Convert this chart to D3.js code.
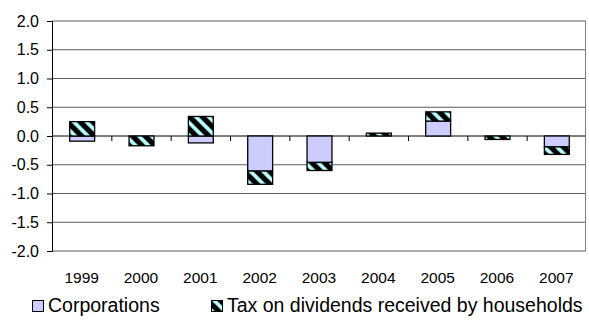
<!DOCTYPE html>
<html><head><meta charset="utf-8">
<script src="https://cdn.jsdelivr.net/npm/d3@7"></script>
<style>html,body{margin:0;padding:0;background:#fff}svg{display:block}text{font-family:"Liberation Sans",Arial,sans-serif;fill:#000}</style>
</head><body>
<svg id="c" width="589" height="320"></svg>
<script>
const years = ["1999","2000","2001","2002","2003","2004","2005","2006","2007"];
const corporations = [-0.09, 0.0, -0.12, -0.61, -0.46, 0.0, 0.26, 0.0, -0.19];
const taxDividends = [0.25, -0.17, 0.34, -0.23, -0.14, 0.05, 0.16, -0.06, -0.13];
const yTicks = [-2.0, -1.5, -1.0, -0.5, 0.0, 0.5, 1.0, 1.5, 2.0];
const seriesNames = ["Corporations", "Tax on dividends received by households"];

(function(){
const svg = d3.select("#c");
const pL = 52, pR = 586, pT = 21, pB = 251;
const x = d3.scaleBand().domain(years).range([pL, pR]).paddingInner(0.58).paddingOuter(0.29);
const xb = d3.scaleBand().domain(years).range([pL, pR]);
const y = d3.scaleLinear().domain([-2, 2]).range([pB, pT]);

const defs = svg.append("defs");
const pat = defs.append("pattern").attr("id","hatch").attr("patternUnits","userSpaceOnUse")
  .attr("width",9).attr("height",9).attr("patternTransform","rotate(-45)");
pat.append("rect").attr("width",9).attr("height",9).attr("fill","#000");
pat.append("rect").attr("x",0).attr("width",4).attr("height",9).attr("fill","#7fdfe0");
pat.append("rect").attr("x",1).attr("width",2).attr("height",9).attr("fill","#d8fafa");

// gridlines
svg.append("g").selectAll("line").data(yTicks).join("line")
  .attr("x1",pL).attr("x2",pR).attr("y1",d=>y(d)).attr("y2",d=>y(d))
  .attr("stroke",d=>d===0?"#000":"#5a5a5a").attr("stroke-width",1);
// right frame
svg.append("line").attr("x1",pR-0.5).attr("x2",pR-0.5).attr("y1",pT).attr("y2",pB)
  .attr("stroke","#7f7f7f");

// stacked bars
const stacks = years.map((yr,i)=>{
  const c = corporations[i], t = taxDividends[i];
  let pos = 0, neg = 0;
  const segs = [];
  [[c,"corp"],[t,"tax"]].forEach(([v,k])=>{
    if (v === 0) return;
    if (v > 0){ segs.push({yr,k,y0:pos,y1:pos+v}); pos+=v; }
    else { segs.push({yr,k,y0:neg,y1:neg+v}); neg+=v; }
  });
  return segs;
}).flat();

svg.append("g").selectAll("rect").data(stacks).join("rect")
  .attr("x",d=>x(d.yr)+0.5).attr("width",x.bandwidth())
  .attr("y",d=>y(Math.max(d.y0,d.y1))).attr("height",d=>Math.abs(y(d.y0)-y(d.y1)))
  .attr("fill",d=>d.k==="corp"?"#ccccff":"url(#hatch)")
  .attr("stroke","#000").attr("stroke-width",1.3);

// y axis
const fmt = d => d3.format(".1f")(d).replace("\u2212","-");
const ya = d3.axisLeft(y).tickValues(yTicks).tickFormat(fmt).tickSize(5).tickPadding(8);
const yg = svg.append("g").attr("transform",`translate(${pL},0)`).call(ya);
yg.select(".domain").attr("stroke","#000");
yg.selectAll(".tick line").attr("stroke","#000");
yg.selectAll("text").attr("font-size",16).attr("font-family","Liberation Sans, Arial, sans-serif");

// x ticks at boundaries below zero line
svg.append("g").selectAll("line").data(years.slice(1)).join("line")
  .attr("x1",d=>xb(d)+0.5).attr("x2",d=>xb(d)+0.5).attr("y1",y(0)).attr("y2",y(0)+5)
  .attr("stroke","#000");

// x labels
svg.append("g").selectAll("text").data(years).join("text")
  .attr("x",d=>xb(d)+xb.bandwidth()/2).attr("y",283).attr("text-anchor","middle")
  .attr("font-size",15.5).text(d=>d);

// legend
const lg = svg.append("g");
lg.append("rect").attr("x",32.5).attr("y",300.5).attr("width",11).attr("height",11)
  .attr("fill","#ccccff").attr("stroke","#000");
lg.append("text").attr("x",48).attr("y",312).attr("font-size",19.5).text(seriesNames[0]);
lg.append("rect").attr("x",211.5).attr("y",300.5).attr("width",11).attr("height",11)
  .attr("fill","url(#hatch)").attr("stroke","#000");
lg.append("text").attr("x",227).attr("y",312).attr("font-size",19.5).text(seriesNames[1]);
})();
</script>
</body></html>
